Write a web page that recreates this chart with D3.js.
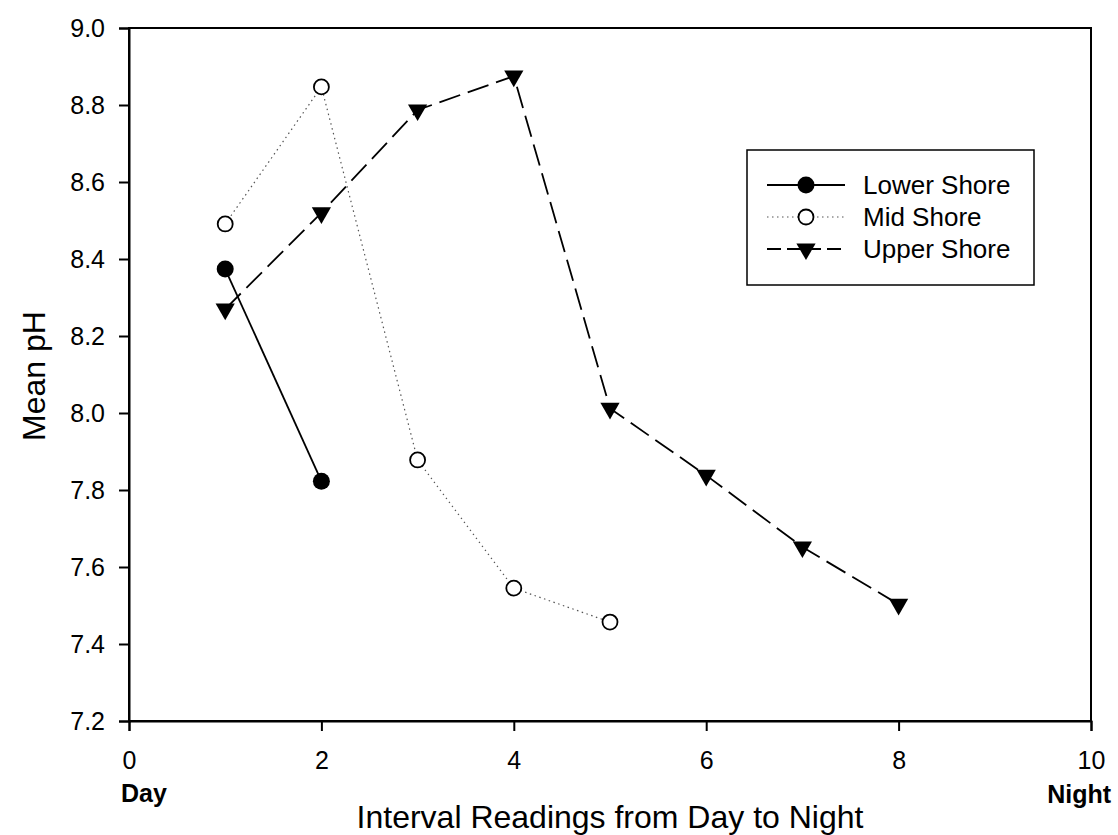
<!DOCTYPE html>
<html>
<head>
<meta charset="utf-8">
<script src="https://cdn.jsdelivr.net/npm/d3@7"></script>
<style>
  body { margin: 0; background: #fff; }
  text { font-family: "Liberation Sans", Arial, sans-serif; fill: #000; }
</style>
</head>
<body>
<svg width="1118" height="835"></svg>
<script>
let width = 1118, height = 835;

// data
let lowerX = [1, 2];
let lowerY = [8.374, 7.823];
let midX = [1, 2, 3, 4, 5];
let midY = [8.491, 8.847, 7.878, 7.545, 7.457];
let upperX = [1, 2, 3, 4, 5, 6, 7, 8];
let upperY = [8.27, 8.52, 8.787, 8.875, 8.012, 7.838, 7.652, 7.503];
let xTicks = [0, 2, 4, 6, 8, 10];
let yTicks = [7.2, 7.4, 7.6, 7.8, 8.0, 8.2, 8.4, 8.6, 8.8, 9.0];
let seriesNames = ["Lower Shore", "Mid Shore", "Upper Shore"];

let svg = d3.select("svg");

let x = d3.scaleLinear().domain([0, 10]).range([129, 1091]);
let y = d3.scaleLinear().domain([7.2, 9.0]).range([721, 28]);

// frame
svg.append("rect")
    .attr("x", x(0)).attr("y", y(9.0))
    .attr("width", x(10) - x(0)).attr("height", y(7.2) - y(9.0))
    .attr("fill", "none").attr("stroke", "#000").attr("stroke-width", 2);

let xAxis = svg.append("g")
    .attr("transform", "translate(0," + y(7.2) + ")")
    .call(d3.axisBottom(x).tickValues(xTicks).tickSize(10).tickPadding(20).tickFormat(d3.format("d")));
let yAxis = svg.append("g")
    .attr("transform", "translate(" + x(0) + ",0)")
    .call(d3.axisLeft(y).tickValues(yTicks).tickSize(10).tickPadding(14).tickFormat(d3.format(".1f")));

[xAxis, yAxis].forEach(a => {
  a.attr("font-size", null).attr("font-family", null);
  a.select(".domain").attr("stroke-width", 2);
  a.selectAll(".tick line").attr("stroke-width", 2);
  a.selectAll("text").style("font-size", "25px");
});

// axis titles
svg.append("text").attr("x", 610).attr("y", 828).attr("text-anchor", "middle")
    .style("font-size", "32px").text("Interval Readings from Day to Night");
svg.append("text").attr("transform", "translate(45,376) rotate(-90)").attr("text-anchor", "middle")
    .style("font-size", "32px").text("Mean pH");
svg.append("text").attr("x", 121).attr("y", 802).style("font-size", "25px").style("font-weight", "bold").text("Day");
svg.append("text").attr("x", 1111).attr("y", 803).attr("text-anchor", "end")
    .style("font-size", "25px").style("font-weight", "bold").text("Night");

let line = d3.line().x(d => x(d[0])).y(d => y(d[1]));
let triangle = d3.symbol().type(d3.symbolTriangle).size(160);

let lower = lowerX.map((v, i) => [v, lowerY[i]]);
let mid = midX.map((v, i) => [v, midY[i]]);
let upper = upperX.map((v, i) => [v, upperY[i]]);

svg.append("path").attr("d", line(lower)).attr("fill", "none").attr("stroke", "#000").attr("stroke-width", 1.8);
svg.append("path").attr("d", line(mid)).attr("fill", "none").attr("stroke", "#555").attr("stroke-width", 1.2).attr("stroke-dasharray", "1.5,3.5");
svg.append("path").attr("d", line(upper)).attr("fill", "none").attr("stroke", "#000").attr("stroke-width", 1.8).attr("stroke-dasharray", "22,8");

svg.append("g").selectAll("circle").data(lower).enter().append("circle")
    .attr("cx", d => x(d[0])).attr("cy", d => y(d[1])).attr("r", 8.5).attr("fill", "#000");
svg.append("g").selectAll("circle").data(mid).enter().append("circle")
    .attr("cx", d => x(d[0])).attr("cy", d => y(d[1])).attr("r", 7.5).attr("fill", "#fff").attr("stroke", "#000").attr("stroke-width", 1.8);
svg.append("g").selectAll("path").data(upper).enter().append("path")
    .attr("d", triangle)
    .attr("transform", d => "translate(" + x(d[0]) + "," + y(d[1]) + ") rotate(180)")
    .attr("fill", "#000");

// legend
let legend = svg.append("g");
legend.append("rect").attr("x", 747).attr("y", 150).attr("width", 287).attr("height", 135)
    .attr("fill", "#fff").attr("stroke", "#000").attr("stroke-width", 1.5);
let rowsY = [185, 217, 249];
let styles = [
  { stroke: "#000", w: 1.8, dash: null },
  { stroke: "#555", w: 1.2, dash: "1.5,3.5" },
  { stroke: "#000", w: 1.8, dash: "14,6" }
];
seriesNames.forEach((name, i) => {
  let ry = rowsY[i];
  legend.append("line").attr("x1", 767).attr("x2", 845).attr("y1", ry).attr("y2", ry)
      .attr("stroke", styles[i].stroke).attr("stroke-width", styles[i].w)
      .attr("stroke-dasharray", styles[i].dash);
  if (i === 0) legend.append("circle").attr("cx", 806).attr("cy", ry).attr("r", 8.5).attr("fill", "#000");
  if (i === 1) legend.append("circle").attr("cx", 806).attr("cy", ry).attr("r", 7.5).attr("fill", "#fff").attr("stroke", "#000").attr("stroke-width", 1.8);
  if (i === 2) legend.append("path").attr("d", triangle).attr("transform", "translate(806," + ry + ") rotate(180)").attr("fill", "#000");
  legend.append("text").attr("x", 863).attr("y", ry + 9).style("font-size", "26px").text(name);
});
</script>
</body>
</html>
